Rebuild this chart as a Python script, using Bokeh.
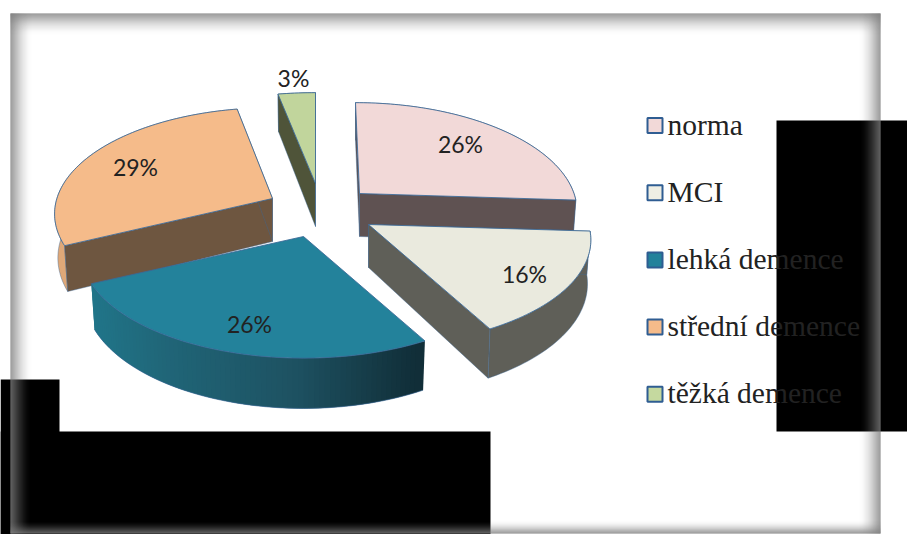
import math
from bokeh.plotting import figure
from bokeh.core.properties import value
from bokeh.embed import file_html
from bokeh.resources import INLINE

labels = ["norma", "MCI", "lehká demence", "střední demence", "těžká demence"]
values = [26, 16, 26, 29, 3]
top_colors = ["#f2d9d8", "#eaeade", "#23829b", "#f5bb8a", "#c1d59c"]
side_colors = ["#5f5252", "#5f5f58", "#1d6478", "#6e5640", "#4f5439"]
outer_colors = ["#5f5252", "#5f5f58", None, "#dfa878", "#4f5439"]
legend_fill = ["#f2d9d8", "#eeeee4", "#23829b", "#f5bb8a", "#c5d99f"]

# layout of the exploded slices (apex of each top face, in page pixels)
apex = [(359, 193), (368, 224), (303, 236), (272, 198), (315, 183)]
x_scale = [0.975, 1.0, 1.0, 0.98, 1.04]
x_skew = [0.044, 0.0, 0.0, 0.0, 0.0]
label_pos = [(460, 143), (524, 273), (249, 323), (135, 166), (293, 77)]
RX, RY, PERSP, DEPTH = 220, 104, 0.145, 43
EDGE = "#3b6896"
TEXT = "#222222"
draw_order = [4, 3, 0, 2, 1]

p = figure(width=907, height=534, x_range=(0, 907), y_range=(534, 0),
           output_backend="svg", toolbar_location=None, min_border=0,
           outline_line_color=None, background_fill_color="white")
p.axis.visible = False
p.grid.visible = False

# redaction blocks
p.quad(left=[776, 0, 0], right=[907, 59, 490], top=[120, 379, 431],
       bottom=[431, 534, 534], fill_color="black", line_color=None)


def top_pt(i, th):
    u = -math.cos(th)
    s = 1 / (1 - PERSP * u)
    dy = RY * u * s
    return apex[i][0] + x_scale[i] * RX * math.sin(th) * s + x_skew[i] * dy, apex[i][1] + dy


def bottom_pt(i, th):
    u = -math.cos(th)
    s = 1 / (1 - PERSP * u)
    dy = RY * u * s
    return (apex[i][0] + 0.985 * x_scale[i] * RX * math.sin(th) * s + x_skew[i] * dy,
            apex[i][1] + dy + DEPTH * s)


def lerp_stops(x):
    stops = [(90, (32, 118, 138)), (180, (32, 100, 118)),
             (300, (30, 82, 98)), (422, (17, 46, 56))]
    for (x0, c0), (x1, c1) in zip(stops, stops[1:]):
        if x <= x1:
            t = max(0, (x - x0) / (x1 - x0))
            return "#%02x%02x%02x" % tuple(int(a + (b - a) * t) for a, b in zip(c0, c1))
    return "#%02x%02x%02x" % stops[-1][1]


total = sum(values)
starts, cum = [], 0
for v in values:
    starts.append(cum)
    cum += v

for i in draw_order:
    a0 = starts[i] / total * 2 * math.pi
    a1 = (starts[i] + values[i]) / total * 2 * math.pi
    n = max(8, int(values[i] * 3))
    ths = [a0 + (a1 - a0) * k / n for k in range(n + 1)]
    tops = [top_pt(i, t) for t in ths]
    bots = [bottom_pt(i, t) for t in ths]
    ax, ay = apex[i]
    abot = (ax, ay + DEPTH)

    # outer wall
    if outer_colors[i] is None:
        for k in range(n - 1, -1, -1):
            e = min(k + 2, n)
            xs = [tops[k][0], tops[e][0], bots[e][0], bots[k][0]]
            ys = [tops[k][1], tops[e][1], bots[e][1], bots[k][1]]
            c = lerp_stops((tops[k][0] + tops[k + 1][0]) / 2)
            p.patch(xs, ys, fill_color=c, line_color=None)
        p.line([b[0] for b in bots], [b[1] for b in bots], line_color=EDGE, line_width=1, line_alpha=0.6)
    else:
        xs = [q[0] for q in tops] + [q[0] for q in reversed(bots)]
        ys = [q[1] for q in tops] + [q[1] for q in reversed(bots)]
        p.patch(xs, ys, fill_color=outer_colors[i], line_color=EDGE, line_width=0.7, line_alpha=0.6)

    # radial walls
    if outer_colors[i] is not None:
        for q, b in ((tops[0], bots[0]), (tops[-1], bots[-1])):
            p.patch([ax, q[0], b[0], abot[0]], [ay, q[1], b[1], abot[1]],
                    fill_color=side_colors[i], line_color=EDGE, line_width=0.7, line_alpha=0.6)

    # top face
    xs = [ax] + [q[0] for q in tops]
    ys = [ay] + [q[1] for q in tops]
    p.patch(xs, ys, fill_color=top_colors[i], line_color=EDGE, line_width=1, line_alpha=0.85)

# percentage labels
p.text(x=[q[0] for q in label_pos], y=[q[1] for q in label_pos],
       text=[f"{v}%" for v in values], text_font=value("Lato"),
       text_font_size="23px", text_color=TEXT, text_align="center", text_baseline="middle")

# legend
LEG_X, LEG_Y, LEG_STEP, SW = 647, 125, 67.2, 15
ly = [LEG_Y + k * LEG_STEP for k in range(len(labels))]
p.quad(left=[LEG_X] * 5, right=[LEG_X + SW] * 5,
       top=[y - SW / 2 for y in ly], bottom=[y + SW / 2 for y in ly],
       fill_color=legend_fill, line_color="#2f5d92", line_width=2)
p.text(x=[667] * 5, y=[y - 1 for y in ly], text=labels,
       text_font=value("Liberation Serif"), text_font_size="29.5px",
       text_color=TEXT, text_align="left", text_baseline="alphabetic")

# frame with inner shading
L, T, R, B = 10, 13, 880, 533
SHADE = "#7f7f7f"
for k in range(22):
    a = (1 - k / 22) ** 2
    p.quad(left=[L + k], right=[L + k + 1], top=[T], bottom=[B], fill_color=SHADE, fill_alpha=a, line_color=None)
    p.quad(left=[R - k - 1], right=[R - k], top=[T], bottom=[B], fill_color=SHADE, fill_alpha=a, line_color=None)
    p.quad(left=[L], right=[R], top=[T + k], bottom=[T + k + 1], fill_color=SHADE, fill_alpha=a, line_color=None)
for k in range(13):
    a = (1 - k / 13) ** 2
    p.quad(left=[L], right=[R], top=[B - k - 1], bottom=[B - k], fill_color=SHADE, fill_alpha=a, line_color=None)

open("out.html", "w").write(file_html(p, INLINE))
